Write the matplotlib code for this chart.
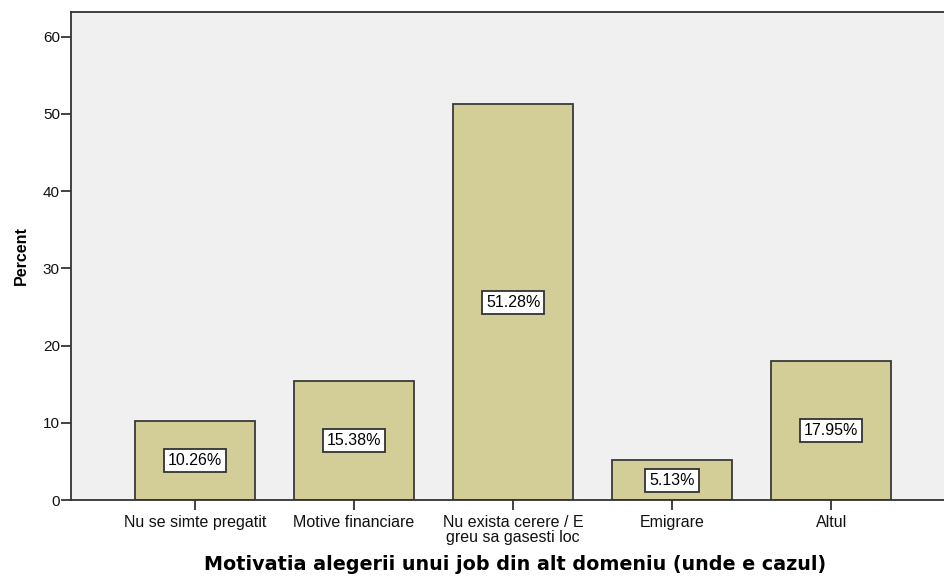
import matplotlib.pyplot as plt

# Motivation categories and percentages
categories = ["Nu se simte pregatit", "Motive financiare",
              "Nu exista cerere / E\ngreu sa gasesti loc", "Emigrare", "Altul"]
percents = [10.26, 15.38, 51.28, 5.13, 17.95]
yticks = [0, 10, 20, 30, 40, 50, 60]

plt.rcParams['font.family'] = ['Liberation Sans', 'DejaVu Sans']

fig = plt.figure(figsize=(9.44, 5.82), dpi=100)
ax = fig.add_axes([71 / 944, 82 / 582, (944 - 71) / 944, (500 - 12) / 582])
ax.set_facecolor("#f0f0f0")

x = list(range(len(categories)))
ax.bar(x, percents, width=0.75, color="#d3ce97", edgecolor="#3a3a3a", linewidth=1.3, zorder=2)

# value labels in the middle of each bar
for xi, p in zip(x, percents):
    ax.text(xi, p / 2, f"{p:.2f}%", ha="center", va="center", fontsize=11.5, zorder=3,
            bbox=dict(boxstyle="square,pad=0.25", facecolor="white", edgecolor="#333333", linewidth=1.3))

ax.set_xlim(-0.78, 4.71)
ax.set_ylim(0, 63.2)
ax.set_yticks(yticks)
ax.set_xticks(x)
ax.set_xticklabels(categories, fontsize=11.5, linespacing=0.95)
ax.tick_params(axis="y", labelsize=11, length=7, width=1.3, colors="#333333", labelcolor="#111111", pad=1)
ax.tick_params(axis="x", length=7, width=1.3, colors="#333333", labelcolor="#111111", pad=4)

for side in ["left", "bottom", "top"]:
    ax.spines[side].set_color("#333333")
    ax.spines[side].set_linewidth(1.3)
ax.spines["right"].set_visible(False)

ax.set_ylabel("Percent", fontsize=11.5, fontweight="bold", labelpad=10)
ax.set_xlabel("Motivatia alegerii unui job din alt domeniu (unde e cazul)", fontsize=13.8,
              fontweight="bold", family="DejaVu Sans")
ax.xaxis.set_label_coords(0.509, -0.113)

plt.savefig("out.png", dpi=100)
